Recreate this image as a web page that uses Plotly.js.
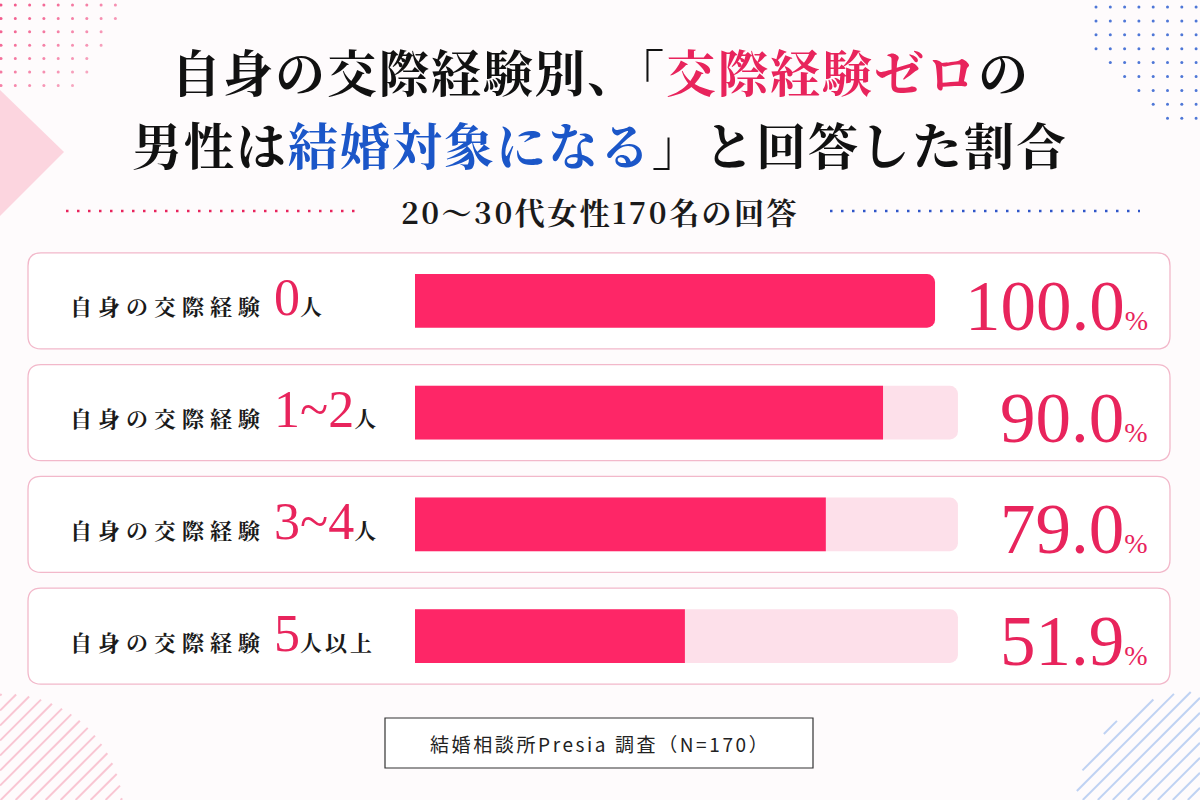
<!DOCTYPE html>
<html>
<head>
<meta charset="utf-8">
<script src="https://cdn.plot.ly/plotly-3.0.1.min.js"></script>
<style>
  html, body { margin: 0; padding: 0; background: #fefbfc; }
  #grafico { width: 1200px; height: 800px; }
</style>
</head>
<body>
<div id="grafico"></div>
<script>
// dados do grafico
let grupos = ['0', '1~2', '3~4', '5']; // numero de relacionamentos
let sufixos = ['人', '人', '人', '人以上'];
let valores = [100.0, 90.0, 79.0, 51.9]; // % "sim, e candidato a casamento"
let trilhoMax = 104.4; // fim do trilho rosa claro

let tituloL1 = '自身の交際経験別、「<span style="color:#e8245c">交際経験ゼロ</span>の';
let tituloL2 = '男性は<span style="color:#1b56c8">結婚対象になる</span>」と回答した割合';
let subtitulo = '20～30代女性170名の回答';
let fonte = '結婚相談所Presia 調査（N=170）';

// tamanho da figura e margens (px)
const W = 1200, H = 800;
const M = {l: 415, r: 240, t: 245, b: 108};
const pw = W - M.l - M.r, ph = H - M.t - M.b;

// px -> paper
function px(x) { return (x - M.l) / pw; }
function py(y) { return (H - M.b - y) / ph; }

// retangulo arredondado em px
function caixaArred(x0, y0, x1, y1, r) {
  let p = 'M' + px(x0 + r) + ',' + py(y0);
  p += ' L' + px(x1 - r) + ',' + py(y0);
  p += ' Q' + px(x1) + ',' + py(y0) + ' ' + px(x1) + ',' + py(y0 + r);
  p += ' L' + px(x1) + ',' + py(y1 - r);
  p += ' Q' + px(x1) + ',' + py(y1) + ' ' + px(x1 - r) + ',' + py(y1);
  p += ' L' + px(x0 + r) + ',' + py(y1);
  p += ' Q' + px(x0) + ',' + py(y1) + ' ' + px(x0) + ',' + py(y1 - r);
  p += ' L' + px(x0) + ',' + py(y0 + r);
  p += ' Q' + px(x0) + ',' + py(y0) + ' ' + px(x0 + r) + ',' + py(y0) + ' Z';
  return p;
}

let shapes = [];
let annotations = [];

// enfeites: pontos rosa (canto sup. esq.)
for (let r = 0; r < 7; r++) {
  let maxC = 8 - Math.floor(r * 0.55);
  for (let c = 0; c <= maxC; c++) {
    let x = 1 + 14.3 * c, y = 5 + 13.4 * r;
    shapes.push({type: 'circle', xref: 'paper', yref: 'paper', layer: 'below',
      x0: px(x - 1.5), x1: px(x + 1.5), y0: py(y + 1.5), y1: py(y - 1.5),
      fillcolor: '#f0417a', line: {width: 0}, opacity: 0.9 - 0.04 * (r + c)});
  }
}
// pontos azuis (canto sup. dir.)
for (let r = 0; r < 9; r++) {
  let k = Math.max(0, r - 3);
  for (let c = k; 1096 + 14.3 * c < 1200; c++) {
    let x = 1096 + 14.3 * c, y = 7 + 13.9 * r;
    shapes.push({type: 'circle', xref: 'paper', yref: 'paper', layer: 'below',
      x0: px(x - 1.5), x1: px(x + 1.5), y0: py(y + 1.5), y1: py(y - 1.5),
      fillcolor: '#2f5fd0', line: {width: 0}, opacity: 0.85});
  }
}
// losango rosa na esquerda
shapes.push({type: 'path', xref: 'paper', yref: 'paper', layer: 'below',
  path: 'M' + px(0) + ',' + py(90) + ' L' + px(64) + ',' + py(152) + ' L' + px(0) + ',' + py(216) + ' Z',
  fillcolor: '#fcd5df', line: {width: 0}});

// listras diagonais recortadas num circulo
function listras(cx, cy, rad, cor) {
  for (let c = cx + cy - rad * 1.41; c <= cx + cy + rad * 1.41; c += 15) {
    let d = Math.abs(cx + cy - c) / Math.SQRT2;
    if (d >= rad) continue;
    let h = Math.sqrt(rad * rad - d * d) / Math.SQRT2;
    let t = (c - cx - cy) / 2;
    let mx = cx + t, my = cy + t;
    let xa = mx - h, ya = my + h, xb = mx + h, yb = my - h;
    // corta no limite da figura
    if (ya > H) { xa += ya - H; ya = H; }
    if (xa < 0) { ya -= -xa; xa = 0; }
    if (xb > W) { yb += xb - W; xb = W; }
    if (xb <= xa) continue;
    shapes.push({type: 'line', xref: 'paper', yref: 'paper', layer: 'below',
      x0: px(xa), y0: py(ya), x1: px(xb), y1: py(yb), line: {color: cor, width: 2}});
  }
}
listras(5, 812, 118, '#f9c6d3');
listras(1195, 812, 120, '#bfd2f3');

// linhas pontilhadas do subtitulo
shapes.push({type: 'line', xref: 'paper', yref: 'paper', x0: px(66), x1: px(362), y0: py(211), y1: py(211),
  line: {color: '#e8245c', width: 2.5, dash: '2.5px,8.5px'}});
shapes.push({type: 'line', xref: 'paper', yref: 'paper', x0: px(830), x1: px(1140), y0: py(211), y1: py(211),
  line: {color: '#2f55c8', width: 2.5, dash: '2.5px,8.5px'}});

// caixas das linhas + textos
let passo = ph / grupos.length;
for (let i = 0; i < grupos.length; i++) {
  let yc = M.t + (i + 0.5) * passo;
  shapes.push({type: 'path', xref: 'paper', yref: 'paper', layer: 'below',
    path: caixaArred(28, yc - 48, 1170, yc + 48, 13),
    fillcolor: '#ffffff', line: {color: '#f2b8ca', width: 1.3}});

  annotations.push({xref: 'paper', yref: 'paper', x: px(68), y: py(yc), xanchor: 'left', yanchor: 'middle',
    yshift: 3, showarrow: false,
    text: '<span style="letter-spacing:6px">自身の交際経</span><span style="letter-spacing:14px">験</span>' +
      '<span style="font-family:Liberation Serif;font-size:52px;font-weight:400;color:#e8245c">' + grupos[i] + '</span>' +
      '<span style="letter-spacing:3px">' + sufixos[i] + '</span>',
    font: {family: 'Noto Serif CJK JP, Noto Sans CJK JP', size: 22, color: '#1a1a1a', weight: 700}});

  annotations.push({xref: 'paper', yref: 'paper', x: px(1150), y: py(yc), xanchor: 'right', yanchor: 'middle',
    yshift: -5, showarrow: false,
    text: '<span style="font-size:71px">' + valores[i].toFixed(1) + '</span><span style="font-size:28px">%</span>',
    font: {family: 'Liberation Serif', size: 71, color: '#e8245c'}});
}

// rodape
shapes.push({type: 'rect', xref: 'paper', yref: 'paper', x0: px(385), x1: px(813), y0: py(718), y1: py(768),
  fillcolor: '#ffffff', line: {color: '#333333', width: 1.2}});
annotations.push({xref: 'paper', yref: 'paper', x: px(600), y: py(743), xanchor: 'center', yanchor: 'middle',
  showarrow: false, text: '<span style="letter-spacing:2.6px">' + fonte + '</span>',
  font: {family: 'Noto Sans CJK JP', size: 19, color: '#222222'}});

// titulos
annotations.push({xref: 'paper', yref: 'paper', x: px(600), y: py(70), xanchor: 'center', yanchor: 'middle',
  showarrow: false, text: '<span style="letter-spacing:2px">' + tituloL1 + '</span>',
  font: {family: 'Noto Serif CJK JP, Noto Sans CJK JP', size: 50, color: '#111111', weight: 700}});
annotations.push({xref: 'paper', yref: 'paper', x: px(600), y: py(143), xanchor: 'center', yanchor: 'middle',
  showarrow: false, text: '<span style="letter-spacing:2px">' + tituloL2 + '</span>',
  font: {family: 'Noto Serif CJK JP, Noto Sans CJK JP', size: 50, color: '#111111', weight: 700}});
annotations.push({xref: 'paper', yref: 'paper', x: px(600), y: py(211), xanchor: 'center', yanchor: 'middle',
  showarrow: false, text: '<span style="letter-spacing:2.5px">' + subtitulo + '</span>',
  font: {family: 'Noto Serif CJK JP, Noto Sans CJK JP', size: 30, color: '#1a1a1a', weight: 700}});

let yIdx = grupos.map((g, i) => i);

// trilho (fundo claro) e barra principal
let trilho = {
  type: 'bar', orientation: 'h', y: yIdx,
  x: valores.map(v => v < 100 ? trilhoMax : 0),
  width: 0.48, marker: {color: '#fde0ea', cornerradius: 8},
  hoverinfo: 'skip'
};
let barras = {
  type: 'bar', orientation: 'h', y: yIdx, x: valores,
  width: 0.48, marker: {color: '#fe2667', cornerradius: 8},
  hoverinfo: 'skip'
};

let layout = {
  width: W, height: H,
  margin: M,
  paper_bgcolor: '#fefbfc',
  plot_bgcolor: 'rgba(0,0,0,0)',
  barmode: 'overlay',
  showlegend: false,
  xaxis: {range: [0, 104.8], visible: false, fixedrange: true},
  yaxis: {range: [grupos.length - 0.5, -0.5], visible: false, fixedrange: true},
  shapes: shapes,
  annotations: annotations
};

Plotly.newPlot('grafico', [trilho, barras], layout, {displayModeBar: false, staticPlot: true});
</script>
</body>
</html>
